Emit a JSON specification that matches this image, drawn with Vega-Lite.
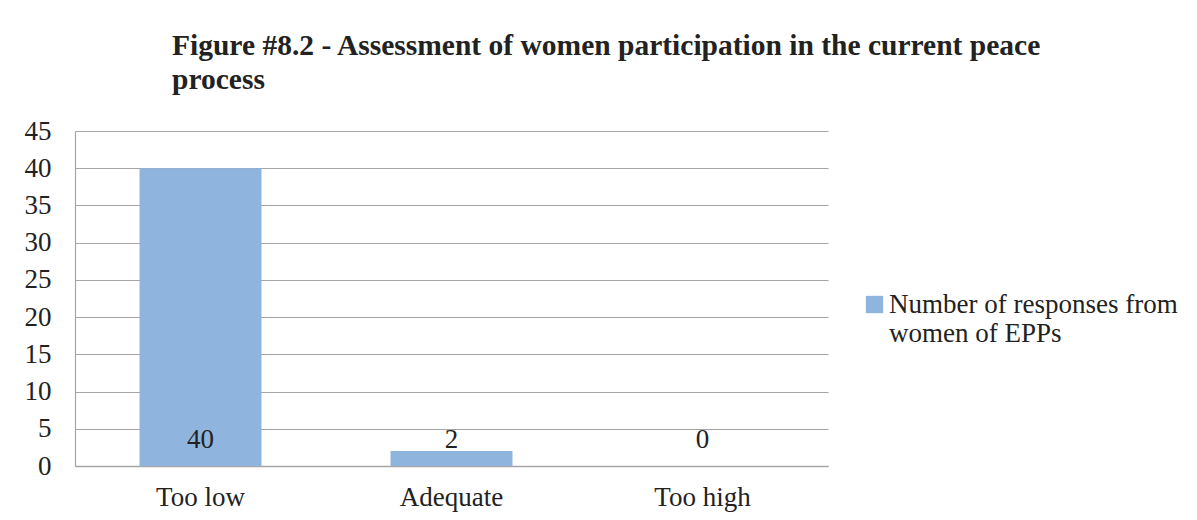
{
  "$schema": "https://vega.github.io/schema/vega-lite/v6.json",
  "autosize": {"type": "none"},
  "padding": {"left": 75, "top": 131, "right": 369, "bottom": 54},
  "width": 753,
  "height": 335,
  "background": "white",
  "config": {"view": {"stroke": null}},
  "title": {
    "text": ["Figure #8.2 - Assessment of women participation in the current peace", "process"],
    "anchor": "start",
    "frame": "group",
    "dx": 97,
    "offset": 22,
    "font": "Liberation Serif",
    "fontSize": 29.5,
    "fontWeight": "bold",
    "lineHeight": 34,
    "color": "#222222"
  },
  "data": {
    "values": [
      {"category": "Too low", "count": 40, "series": "Number of responses from women of EPPs"},
      {"category": "Adequate", "count": 2, "series": "Number of responses from women of EPPs"},
      {"category": "Too high", "count": 0, "series": "Number of responses from women of EPPs"}
    ]
  },
  "encoding": {
    "x": {
      "field": "category",
      "type": "nominal",
      "sort": null,
      "scale": {"paddingInner": 0.514, "paddingOuter": 0.257},
      "axis": {
        "title": null,
        "labelAngle": 0,
        "ticks": false,
        "labelPadding": 18,
        "labelFont": "Liberation Serif",
        "labelFontSize": 27,
        "labelColor": "#222222",
        "domainColor": "#a6a6a6",
        "domainWidth": 1.5
      }
    }
  },
  "layer": [
    {
      "mark": {"type": "bar", "color": "#8fb4de"},
      "encoding": {
        "y": {
          "field": "count",
          "type": "quantitative",
          "scale": {"domain": [0, 45], "nice": false},
          "axis": {
            "title": null,
            "values": [0, 5, 10, 15, 20, 25, 30, 35, 40, 45],
            "tickCount": 20,
            "labelOverlap": false,
            "labelFlush": false,
            "ticks": false,
            "labelPadding": 24,
            "labelFont": "Liberation Serif",
            "labelFontSize": 27,
            "labelColor": "#222222",
            "grid": true,
            "gridColor": "#a6a6a6",
            "gridWidth": 1.2,
            "domain": true,
            "domainColor": "#a6a6a6",
            "domainWidth": 1.2
          }
        },
        "color": {
          "field": "series",
          "type": "nominal",
          "scale": {"range": ["#8fb4de"]},
          "legend": {
            "title": null,
            "orient": "none",
            "legendX": 786,
            "legendY": 160,
            "symbolType": "square",
            "symbolSize": 300,
            "symbolStrokeWidth": 0,
            "symbolOpacity": 1,
            "labelFont": "Liberation Serif",
            "labelFontSize": 27,
            "labelColor": "#222222",
            "labelOffset": 1,
            "labelLimit": 400,
            "labelExpr": "['Number of responses from', 'women of EPPs']"
          }
        }
      }
    },
    {
      "mark": {
        "type": "text",
        "font": "Liberation Serif",
        "fontSize": 27,
        "color": "#222222",
        "baseline": "middle",
        "dy": -26
      },
      "encoding": {
        "y": {"datum": 0, "type": "quantitative"},
        "text": {"field": "count", "type": "quantitative"}
      }
    }
  ]
}
